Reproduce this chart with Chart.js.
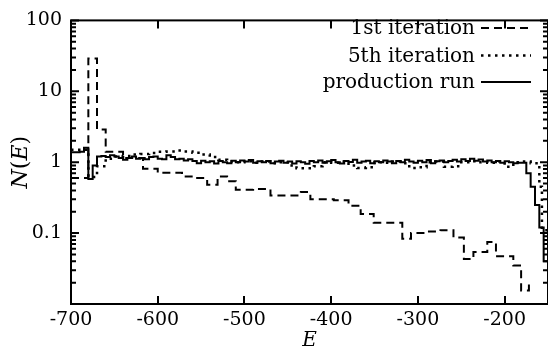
<!DOCTYPE html>
<html>
<head>
<meta charset="utf-8">
<script src="https://cdn.jsdelivr.net/npm/chart.js@4.4.1/dist/chart.umd.min.js"></script>
<style>
  html, body { margin: 0; padding: 0; background: #fff; }
  #wrap { width: 548px; height: 356px; }
</style>
</head>
<body>
<div id="wrap"><canvas id="c" width="548" height="356"></canvas></div>
<script>
// 1st iteration histogram: bin edges in E and N(E) of each bin
const firstEdges = [-700, -680, -670, -660, -640, -617, -600, -572, -559, -543, -531, -520, -510, -490,
  -470, -435, -424, -397, -380, -366, -351, -318, -308, -290, -274, -259, -247, -236, -220, -210,
  -190, -181, -172, -168];
const firstValues = [0.6, 29, 2.9, 1.4, 1.15, 0.81, 0.71, 0.63, 0.6, 0.48, 0.63, 0.54, 0.41, 0.42,
  0.34, 0.38, 0.30, 0.29, 0.244, 0.186, 0.14, 0.083, 0.1, 0.105, 0.11, 0.087, 0.043, 0.054, 0.075,
  0.047, 0.035, 0.0155, 0.019];

// 5th iteration histogram
const fifthEdges = [-700, -690, -680, -670, -660, -650, -640, -630, -620, -610, -600, -590, -580,
  -570, -560, -550, -540, -530, -520, -510, -500, -490, -480, -470, -460, -450, -440, -430, -420,
  -410, -400, -390, -380, -370, -360, -350, -340, -330, -320, -310, -300, -290, -280, -270, -260,
  -250, -240, -230, -220, -210, -200, -190, -180, -170, -160, -157, -150];
const fifthValues = [1.5, 1.5, 0.62, 0.88, 1.12, 1.2, 1.22, 1.28, 1.3, 1.35, 1.4, 1.42, 1.46, 1.42,
  1.36, 1.28, 1.18, 1.08, 1.02, 1.0, 1.03, 0.98, 1.02, 0.97, 1.0, 0.9, 0.82, 0.82, 0.88, 1.0, 0.98,
  1.02, 0.9, 0.83, 0.85, 1.0, 0.98, 1.02, 0.97, 0.83, 0.85, 1.0, 1.02, 0.86, 0.88, 1.0, 1.03, 1.0,
  0.98, 1.02, 0.86, 1.0, 1.02, 0.97, 0.45, 0.11];

// production run histogram: 5-wide bins starting at E = -700
const prodStart = -700;
const prodWidth = 5;
const prodValues = [
  1.38, 1.38, 1.4, 1.6, 0.58, 0.9, 1.2,
  1.22, 1.18, 1.25, 1.2, 1.15,
  1.08, 1.15, 1.2, 1.12,
  1.15, 1.1, 1.18, 1.2,
  1.12, 1.1, 1.25, 1.18,
  1.1, 1.12, 1.06, 1.1,
  1.04, 0.97, 1.05, 1.0,
  1.03, 0.96, 1.04, 1.0,
  0.97, 1.05, 1.0, 1.06,
  1.02, 1.07, 0.98, 1.03,
  1.0, 1.04, 0.97, 1.02,
  1.05, 0.98, 1.02, 0.96,
  1.03, 1.0, 0.95, 1.04,
  1.0, 1.06, 0.98, 1.03,
  1.07, 1.0, 0.96, 1.04,
  1.01, 1.08, 0.98, 1.02,
  1.05, 0.97, 1.03, 1.0,
  1.06, 1.02, 0.97, 1.04,
  1.0, 1.08, 1.02, 0.98,
  1.05, 1.0, 1.07, 0.97,
  1.03, 1.06, 1.0, 1.04,
  1.08, 1.02, 1.1, 1.04,
  1.12, 1.05, 1.09, 1.02,
  1.06, 1.0, 1.04, 0.98,
  1.03, 1.0, 0.97, 0.98,
  0.98, 0.7, 0.45, 0.25, 0.12, 0.04
];

const xTicks = [-700, -600, -500, -400, -300, -200];
const yTicks = [0.1, 1, 10, 100];
const yDecades = [0.01, 0.1, 1, 10];

const seriesNames = ['1st iteration', '5th iteration', 'production run'];

const FONT = '"DejaVu Serif", "Liberation Serif", serif';

// histogram bins -> points for a stepped line (left-edge convention)
function toSteps(edges, values) {
  const pts = values.map((v, i) => ({ x: edges[i], y: v }));
  pts.push({ x: edges[values.length], y: values[values.length - 1] });
  return pts;
}

const prodEdges = prodValues.map((_, i) => prodStart + i * prodWidth);
prodEdges.push(prodStart + prodValues.length * prodWidth);

function isLabelled(v) {
  return yTicks.find(t => Math.abs(t - v) / t < 1e-6);
}

// inward tick marks on all four sides, frame, legend and axis titles
const frameAndDecor = {
  id: 'frameAndDecor',
  afterDatasetsDraw(chart) {
    const { ctx, chartArea: a, scales: { x, y } } = chart;
    ctx.save();
    ctx.strokeStyle = '#000';
    ctx.lineWidth = 2;
    ctx.setLineDash([]);
    ctx.beginPath();
    x.ticks.forEach(t => {
      const px = Math.round(x.getPixelForValue(t.value));
      ctx.moveTo(px, a.bottom); ctx.lineTo(px, a.bottom - 8);
      ctx.moveTo(px, a.top); ctx.lineTo(px, a.top + 8);
    });
    y.ticks.forEach(t => {
      const py = y.getPixelForValue(t.value);
      const major = yDecades.concat([100]).some(d => Math.abs(d - t.value) / d < 1e-6);
      const len = major ? 8 : 5;
      ctx.moveTo(a.left, py); ctx.lineTo(a.left + len, py);
      ctx.moveTo(a.right, py); ctx.lineTo(a.right - len, py);
    });
    ctx.stroke();
    ctx.strokeRect(a.left, a.top, a.right - a.left, a.bottom - a.top);

    // legend, text right-aligned with the line sample to its right
    const rows = [28, 55.5, 82];
    chart.data.datasets.forEach((ds, i) => {
      ctx.font = '20px ' + FONT;
      ctx.fillStyle = '#000';
      ctx.textAlign = 'right';
      ctx.textBaseline = 'middle';
      ctx.fillText(ds.label, 475, rows[i] + 1);
      ctx.beginPath();
      ctx.setLineDash(ds.borderDash || []);
      ctx.lineWidth = ds.borderWidth;
      ctx.moveTo(481, rows[i]);
      ctx.lineTo(531, rows[i]);
      ctx.stroke();
    });
    ctx.setLineDash([]);

    // x-axis title: E
    ctx.font = 'italic 20px ' + FONT;
    ctx.textAlign = 'center';
    ctx.textBaseline = 'middle';
    ctx.fillText('E', (a.left + a.right) / 2, 341);

    // y-axis title: N(E), rotated
    const parts = [['N', true], ['(', false], ['E', true], [')', false]];
    const fontOf = it => (it ? 'italic ' : '') + '22px ' + FONT;
    let total = 0;
    parts.forEach(p => { ctx.font = fontOf(p[1]); total += ctx.measureText(p[0]).width; });
    ctx.translate(21, (a.top + a.bottom) / 2);
    ctx.rotate(-Math.PI / 2);
    ctx.textAlign = 'left';
    let cx = -total / 2;
    parts.forEach(p => {
      ctx.font = fontOf(p[1]);
      ctx.fillText(p[0], cx, 0);
      cx += ctx.measureText(p[0]).width;
    });
    ctx.restore();
  }
};

const lineBase = {
  stepped: true,
  pointRadius: 0,
  borderColor: '#000',
  backgroundColor: '#000',
  borderWidth: 2,
  fill: false,
  borderCapStyle: 'butt',
  borderJoinStyle: 'miter'
};

new Chart(document.getElementById('c'), {
  type: 'line',
  data: {
    datasets: [
      Object.assign({}, lineBase, { label: seriesNames[0], data: toSteps(firstEdges, firstValues), borderDash: [8, 5] }),
      Object.assign({}, lineBase, { label: seriesNames[1], data: toSteps(fifthEdges, fifthValues), borderDash: [2.5, 4.5], borderWidth: 2.5 }),
      Object.assign({}, lineBase, { label: seriesNames[2], data: toSteps(prodEdges, prodValues) })
    ]
  },
  options: {
    responsive: false,
    animation: false,
    devicePixelRatio: 1,
    layout: { padding: { top: 13, right: 0, bottom: 0, left: 0 } },
    plugins: { legend: { display: false }, tooltip: { enabled: false } },
    scales: {
      x: {
        type: 'linear',
        min: -700,
        max: -150,
        afterBuildTicks: s => { s.ticks = xTicks.map(v => ({ value: v })); },
        afterFit: s => { s.height = 52; },
        grid: { display: false, drawTicks: false },
        border: { display: false },
        ticks: {
          autoSkip: false,
          maxRotation: 0,
          padding: 5,
          color: '#000',
          font: { family: FONT, size: 19 },
          callback: v => String(v)
        }
      },
      y: {
        type: 'logarithmic',
        min: 0.01,
        max: 100,
        afterBuildTicks: s => {
          const t = [];
          yDecades.forEach(d => { for (let m = 1; m <= 9; m++) t.push({ value: m * d }); });
          t.push({ value: 100 });
          s.ticks = t;
        },
        afterFit: s => { s.width = 71; },
        grid: { display: false, drawTicks: false },
        border: { display: false },
        ticks: {
          autoSkip: false,
          padding: 9,
          color: '#000',
          font: { family: FONT, size: 19 },
          callback: v => { const t = isLabelled(v); return t ? String(t) : ''; }
        }
      }
    }
  },
  plugins: [frameAndDecor]
});
</script>
</body>
</html>
